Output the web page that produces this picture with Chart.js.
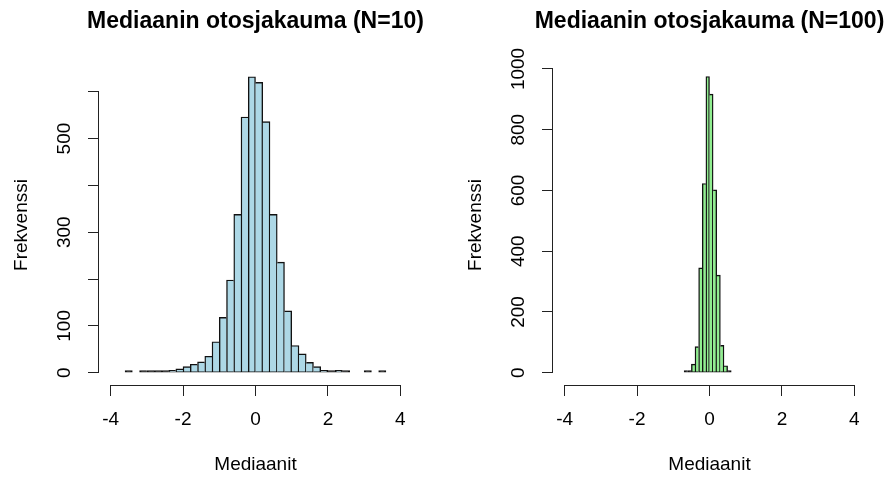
<!DOCTYPE html>
<html>
<head>
<meta charset="utf-8">
<script src="https://cdn.jsdelivr.net/npm/chart.js@4/dist/chart.umd.min.js"></script>
<style>
  body { margin: 0; width: 885px; height: 478px; overflow: hidden; background: #fff; position: relative; }
  .panel { position: absolute; top: 0; width: 454px; height: 478px; }
</style>
</head>
<body>
<div class="panel" style="left:0"><canvas id="n10" width="454" height="478"></canvas></div>
<div class="panel" style="left:454px"><canvas id="n100" width="454" height="478"></canvas></div>
<script>
// otoskoko N=10, luokan leveys 0.2 (luokkien keskipisteet)
const binsN10 = [-3.5, -3.3, -3.1, -2.9, -2.7, -2.5, -2.3, -2.1, -1.9, -1.7, -1.5, -1.3,
                 -1.1, -0.9, -0.7, -0.5, -0.3, -0.1, 0.1, 0.3, 0.5, 0.7, 0.9, 1.1,
                 1.3, 1.5, 1.7, 1.9, 2.1, 2.3, 2.5, 2.7, 2.9, 3.1, 3.3, 3.5]
const countsN10 = [1, null, 1, 1, 1, 1, 5, 8, 13, 18, 23, 35,
                   66, 118, 198, 338, 546, 632, 620, 536, 338, 236, 132, 58,
                   40, 22, 13, 5, 2, 5, 2, null, null, 1, null, 1]

// otoskoko N=100, luokan leveys 0.1
const binsN100 = [-0.65, -0.55, -0.45, -0.35, -0.25, -0.15, -0.05, 0.05, 0.15, 0.25, 0.35, 0.45, 0.55]
const countsN100 = [1, 2, 28, 86, 345, 623, 975, 917, 602, 321, 90, 23, 2]

const xTicks = [-4, -2, 0, 2, 4]
const yTicksN10 = [0, 100, 200, 300, 400, 500, 600]
const yLabelsN10 = [0, 100, 300, 500]   // R jättää päällekkäiset pois
const yTicksN100 = [0, 200, 400, 600, 800, 1000]
const yLabelsN100 = [0, 200, 400, 600, 800, 1000]

const FONT = '"Liberation Sans", Arial, sans-serif'
const INK = '#222'
const EDGE = '#111'

// R-tyyliset akselit: viivat vain ensimmäisestä viimeiseen tickiin, pystyt tick-tekstit
const rAxes = {
    id: 'rAxes',
    afterDraw(chart, args, o) {
        const { ctx, chartArea: a, scales: { x, y } } = chart
        ctx.save()
        ctx.strokeStyle = INK
        ctx.lineWidth = 1
        ctx.beginPath()
        const yb = Math.round(a.bottom) + 0.5
        ctx.moveTo(x.getPixelForValue(xTicks[0]), yb)
        ctx.lineTo(x.getPixelForValue(xTicks[xTicks.length - 1]), yb)
        const xl = Math.round(a.left) - 0.5
        ctx.moveTo(xl, y.getPixelForValue(o.yTicks[0]))
        ctx.lineTo(xl, y.getPixelForValue(o.yTicks[o.yTicks.length - 1]))
        ctx.stroke()

        ctx.fillStyle = '#000'
        ctx.textAlign = 'center'
        ctx.textBaseline = 'alphabetic'
        ctx.font = '19px ' + FONT
        o.yLabels.forEach(v => {
            ctx.save()
            ctx.translate(a.left - 29, y.getPixelForValue(v))
            ctx.rotate(-Math.PI / 2)
            ctx.fillText(String(v), 0, 0)
            ctx.restore()
        })
        ctx.save()
        ctx.translate(a.left - 72, (a.top + a.bottom) / 2)
        ctx.rotate(-Math.PI / 2)
        ctx.fillText('Frekvenssi', 0, 0)
        ctx.restore()

        ctx.font = 'bold 23px ' + FONT
        ctx.fillText(o.title, (a.left + a.right) / 2, 28)
        ctx.restore()
    }
}

function edges(counts) {
    // jaettu reuna piirretään vain korkeamman pylvään puolelta
    return ctx => {
        const i = ctx.dataIndex
        const cur = counts[i], prev = counts[i - 1], next = counts[i + 1]
        return {
            top: 1.4, bottom: 1,
            left: (prev == null || prev <= cur) ? 1.4 : 0,
            right: (next == null || next < cur) ? 1.4 : 0
        }
    }
}

function histogram(id, bins, counts, fill, yTicks, yLabels, yMin, yMax, title) {
    return new Chart(document.getElementById(id), {
        type: 'bar',
        data: {
            datasets: [{
                data: bins.map((b, i) => ({ x: b, y: counts[i] })),
                // hyvin matalat pylväät näkyvät R:ssä pelkkänä reunaviivana
                backgroundColor: ctx => (counts[ctx.dataIndex] < 3 ? EDGE : fill),
                borderColor: EDGE,
                borderWidth: edges(counts),
                borderSkipped: false,
                barPercentage: 1,
                categoryPercentage: 1,
                minBarLength: 2
            }]
        },
        plugins: [rAxes],
        options: {
            responsive: false,
            animation: false,
            layout: { padding: { left: 69, right: 42, top: 65, bottom: 0 } },
            scales: {
                x: {
                    type: 'linear',
                    min: -4.32,
                    max: 4.32,
                    offset: false,
                    afterBuildTicks: s => { s.ticks = xTicks.map(v => ({ value: v })) },
                    afterFit: s => { s.height = 93 },
                    grid: { offset: false, drawOnChartArea: false, drawTicks: true, tickLength: 11, color: INK },
                    border: { display: false },
                    ticks: {
                        color: '#000',
                        font: { family: FONT, size: 19 },
                        padding: 12,
                        maxRotation: 0,
                        autoSkip: false,
                        callback: v => String(v)
                    },
                    title: {
                        display: true,
                        text: 'Mediaanit',
                        color: '#000',
                        font: { family: FONT, size: 19 },
                        padding: { top: 0, bottom: 2 }
                    }
                },
                y: {
                    min: yMin,
                    max: yMax,
                    afterBuildTicks: s => { s.ticks = yTicks.map(v => ({ value: v })) },
                    afterFit: s => { s.width = 30 },
                    grid: { drawOnChartArea: false, drawTicks: true, tickLength: 11, color: INK },
                    border: { display: false },
                    ticks: { display: false }
                }
            },
            plugins: {
                legend: { display: false },
                tooltip: { enabled: false },
                rAxes: { yTicks: yTicks, yLabels: yLabels, title: title }
            }
        }
    })
}

histogram('n10', binsN10, countsN10, '#ADD8E6', yTicksN10, yLabelsN10, -26.3, 657, 'Mediaanin otosjakauma (N=10)')
histogram('n100', binsN100, countsN100, '#90EE90', yTicksN100, yLabelsN100, -40.5, 1013, 'Mediaanin otosjakauma (N=100)')
</script>
</body>
</html>
